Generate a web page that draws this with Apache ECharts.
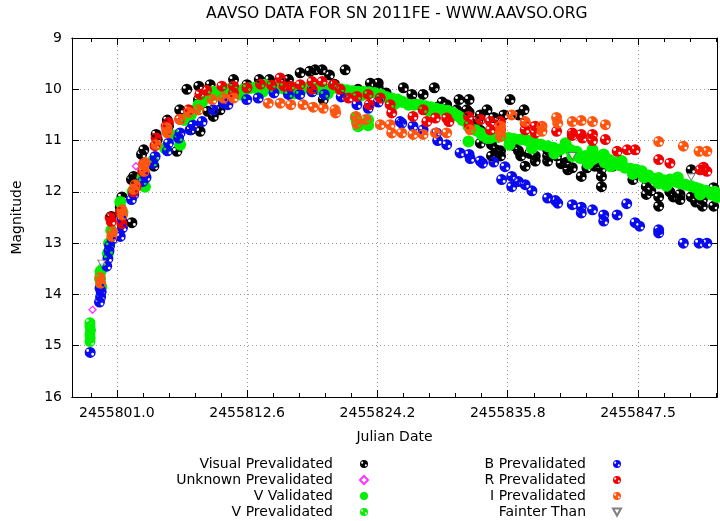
<!DOCTYPE html>
<html><head><meta charset="utf-8">
<script src="https://cdn.jsdelivr.net/npm/echarts@6/dist/echarts.min.js"></script>
<style>html,body{margin:0;padding:0;background:#fff}#c{width:720px;height:521px}</style>
</head><body><div id="c"></div>
<script>
// x values are Julian Date - 2455800
const xTickValues = [1.0, 12.615, 24.23, 35.845, 47.46];
const xTickLabels = ['2455801.0', '2455812.6', '2455824.2', '2455835.8', '2455847.5'];
const yTickLabels = ['9', '10', '11', '12', '13', '14', '15', '16'];

const visualPre = [[0.5,12.48],[1.3,12.3],[1.45,12.1],[2.34,12.6],[2.3,11.76],[2.5,11.7],[3.2,11.27],[3.4,11.18],[4.3,11.5],[4.6,10.98],[4.5,10.88],[5.5,10.6],[5.6,10.72],[6.35,11.21],[6.6,10.4],[7.24,10.0],[7.6,10.79],[8.27,10.2],[8.3,9.94],[8.42,10.82],[9.1,10.43],[9.32,9.91],[9.6,10.53],[10.2,10.4],[10.5,10.24],[11.4,9.81],[12.6,9.91],[13.7,9.81],[14.6,9.81],[15.9,9.88],[16.3,9.81],[17.34,9.68],[18.2,9.65],[18.68,9.62],[19.3,9.62],[19.95,9.72],[19.4,10.2],[20.4,9.9],[21.35,9.62],[22.5,10.0],[23.6,9.88],[24.3,9.88],[24.3,9.97],[25.0,10.07],[26.54,9.97],[27.3,10.1],[27.3,10.24],[28.3,10.1],[29.3,9.97],[29.6,10.35],[30.0,10.25],[30.4,10.3],[30.5,10.4],[31.5,10.2],[32.4,10.2],[31.3,10.4],[32.2,10.4],[32.4,10.45],[33.4,10.5],[33.2,10.6],[33.4,10.8],[34.0,10.4],[34.6,10.55],[34.4,11.0],[35.2,10.9],[35.5,10.5],[36.05,10.2],[36.8,10.5],[37.3,10.4],[33.4,11.05],[34.4,11.08],[34.4,11.3],[34.8,11.18],[35.2,11.3],[35.2,11.2],[36.4,11.1],[36.8,11.2],[37.4,11.5],[37.0,11.3],[37.8,11.25],[38.3,11.3],[38.3,11.4],[39.4,11.18],[39.4,11.3],[39.4,11.4],[40.2,11.3],[40.6,11.45],[41.0,11.43],[41.2,11.57],[41.6,11.53],[42.4,11.7],[42.9,11.53],[43.6,11.5],[44.2,11.55],[44.2,11.7],[44.2,11.9],[45.2,11.5],[47.0,11.76],[48.0,11.7],[48.2,11.9],[48.2,12.05],[48.6,11.98],[49.3,12.1],[49.3,12.28],[50.3,12.0],[50.6,12.1],[51.2,12.15],[51.2,12.05],[52.2,12.1],[52.2,11.57],[52.6,12.2],[53.2,12.15],[53.2,12.28],[54.2,12.28],[54.2,11.92]];
const unknownPre = [[-1.17,14.3],[2.7,11.5]];
const vValidated = [[-0.45,13.55],[-0.5,13.7],[-0.4,13.85],[0.2,13.2],[0.3,13.0],[0.5,12.75],[1.5,12.4],[1.3,12.2],[2.4,12.0],[3.5,11.9],[3.3,11.7],[4.2,11.4],[5.3,11.15],[6.64,11.08],[6.2,10.9],[7.0,10.6],[7.6,10.5],[8.0,10.4],[8.3,10.3],[8.6,10.25],[9.3,10.14],[9.6,10.05],[10.0,10.12],[10.3,10.05],[10.7,10.02],[11.0,10.0],[11.8,10.04],[12.0,10.1],[12.3,10.0],[12.8,9.98],[13.3,9.97],[14.0,10.05],[14.2,9.91],[14.6,9.95],[15.0,9.97],[15.5,9.97],[16.0,10.0],[16.5,10.0],[16.8,10.08],[17.0,10.0],[17.5,10.0],[18.0,9.97],[18.5,9.98],[19.0,10.0],[19.5,10.0],[19.8,10.08],[20.0,10.0],[20.5,9.97],[21.0,10.0],[21.5,10.02],[22.0,10.04],[22.5,10.05],[22.8,10.12],[23.0,10.05],[23.5,10.06],[24.0,10.07],[24.5,10.1],[25.0,10.15],[25.5,10.18],[25.8,10.28],[26.0,10.2],[26.5,10.25],[27.0,10.3],[27.5,10.3],[28.0,10.3],[28.5,10.33],[28.8,10.42],[29.0,10.35],[29.5,10.38],[30.0,10.4],[30.5,10.42],[31.0,10.46],[31.2,10.5],[31.5,10.53],[31.8,10.6],[32.35,10.72],[32.35,11.02],[33.0,10.8],[33.4,10.85],[33.6,10.9],[34.0,10.95],[34.3,10.95],[35.0,10.93],[35.9,10.95],[36.0,11.08],[36.4,10.97],[37.0,10.98],[37.6,11.0],[38.0,11.15],[38.3,11.05],[38.8,11.08],[39.4,11.11],[39.9,11.14],[40.0,11.25],[40.5,11.18],[41.0,11.05],[41.4,11.18],[41.6,11.3],[42.0,11.22],[42.3,11.34],[42.8,11.3],[43.0,11.45],[43.4,11.37],[43.4,11.18],[43.9,11.32],[44.4,11.27],[44.5,11.43],[44.9,11.38],[45.0,11.5],[45.4,11.43],[45.8,11.48],[46.0,11.4],[46.3,11.53],[46.8,11.55],[47.0,11.65],[47.3,11.57],[47.8,11.6],[48.0,11.72],[48.4,11.68],[48.9,11.75],[49.3,11.73],[49.3,11.83],[49.8,11.78],[50.0,11.88],[50.3,11.76],[50.8,11.8],[51.0,11.72],[51.2,11.83],[51.7,11.86],[52.2,11.89],[52.6,11.92],[53.0,11.95],[53.0,12.05],[53.5,11.98],[54.0,12.05],[54.3,12.0],[54.5,12.1],[22.3,10.55],[22.4,10.63],[22.5,10.72],[23.4,10.6],[23.4,10.7]];
const vPre = [[-1.4,14.55],[-1.4,14.62],[-1.35,14.7],[-1.4,14.78],[-1.38,14.85],[-1.4,14.92],[-0.3,13.5],[-0.5,13.6]];
const bPre = [[-1.38,15.13],[-0.55,14.15],[-0.45,14.05],[-0.4,13.95],[-0.5,13.88],[0.1,13.45],[0.2,13.3],[0.3,13.15],[0.35,13.05],[0.6,12.92],[1.3,12.87],[1.45,12.55],[1.5,12.7],[2.3,12.15],[2.5,12.05],[3.3,11.8],[3.5,11.65],[3.6,11.72],[4.41,11.31],[4.2,11.45],[5.6,11.05],[5.5,11.2],[6.64,10.85],[6.5,10.95],[7.53,10.79],[7.8,10.7],[8.6,10.63],[9.6,10.4],[10.5,10.27],[10.9,10.3],[12.58,10.2],[13.6,10.17],[15.0,10.07],[16.3,10.1],[17.3,10.1],[18.4,10.05],[19.5,10.1],[21.0,10.15],[22.4,10.3],[23.4,10.37],[24.3,10.25],[26.25,10.63],[26.4,10.66],[27.4,10.72],[28.3,10.79],[29.5,10.85],[29.6,11.0],[30.4,11.08],[31.6,11.24],[32.4,11.27],[32.5,11.35],[33.4,11.4],[33.6,11.44],[34.6,11.42],[35.6,11.51],[35.3,11.76],[36.2,11.7],[36.2,11.9],[36.8,11.8],[37.4,11.86],[38.0,11.98],[39.4,12.12],[40.1,12.17],[40.3,12.22],[41.6,12.25],[42.4,12.3],[42.4,12.41],[43.4,12.35],[44.4,12.45],[44.4,12.57],[45.6,12.45],[46.45,12.23],[47.2,12.6],[47.6,12.67],[49.3,12.74],[49.3,12.8],[51.5,13.0],[52.9,13.0],[53.6,13.0]];
const rPre = [[0.5,12.58],[0.4,12.5],[1.45,12.62],[1.3,12.4],[2.5,12.0],[2.7,11.9],[3.3,11.6],[3.4,11.45],[4.5,10.95],[4.4,11.1],[5.46,10.8],[5.4,10.72],[5.6,10.65],[6.6,10.58],[7.39,10.4],[8.4,10.1],[9.0,10.02],[10.36,9.94],[11.4,9.94],[11.4,10.07],[12.6,9.97],[13.8,9.9],[14.8,9.92],[15.56,9.78],[15.9,9.94],[16.5,9.94],[17.34,9.91],[18.4,9.85],[18.4,10.0],[19.3,9.85],[20.3,9.91],[20.9,10.0],[21.65,10.17],[22.4,10.14],[23.4,10.1],[23.5,10.3],[24.48,10.17],[25.36,10.3],[25.5,10.46],[27.4,10.53],[28.3,10.4],[28.63,10.63],[29.4,10.56],[30.4,10.56],[30.6,10.63],[32.35,10.53],[32.4,10.69],[33.4,10.59],[34.3,10.63],[34.3,10.79],[35.2,10.63],[35.2,10.79],[37.4,10.66],[37.4,10.79],[38.3,10.72],[38.3,10.85],[40.2,10.82],[41.6,10.85],[41.6,10.9],[42.4,10.88],[42.5,10.95],[43.4,10.88],[43.4,11.0],[44.55,10.98],[45.6,11.21],[46.5,11.18],[47.2,11.18],[49.3,11.37],[50.3,11.44],[53.0,11.57],[53.3,11.52],[53.6,11.6]];
const iPre = [[-0.5,13.67],[-0.45,13.78],[0.55,12.87],[0.6,12.78],[1.45,12.35],[1.5,12.45],[2.63,11.86],[2.5,11.95],[3.37,11.47],[3.52,11.43],[3.45,11.6],[4.5,11.08],[5.46,10.75],[5.5,10.85],[6.64,10.59],[7.4,10.45],[8.27,10.4],[9.5,10.2],[10.5,10.17],[11.4,10.17],[14.5,10.27],[15.56,10.27],[16.5,10.3],[17.6,10.3],[18.5,10.35],[19.4,10.37],[20.45,10.4],[20.5,10.46],[22.3,10.53],[22.4,10.67],[23.2,10.59],[24.48,10.69],[25.36,10.69],[25.5,10.85],[26.4,10.85],[27.4,10.88],[28.3,10.88],[29.4,10.85],[30.4,10.85],[32.5,10.79],[35.2,10.72],[35.2,10.92],[35.2,10.82],[36.2,10.5],[37.4,10.63],[38.9,10.82],[38.9,10.72],[40.2,10.55],[40.3,10.66],[41.6,10.63],[42.4,10.61],[43.4,10.63],[44.55,10.69],[49.3,11.02],[51.5,11.11],[52.9,11.21],[53.6,11.21]];
const fainterThan = [[-0.34,13.4],[41.6,11.3],[52.2,11.71]];

const FONT = 'DejaVu Sans';
const PAT = 'path://M10,0A10,10,0,1,1,10,20A10,10,0,1,1,10,0ZM5.5,4A2.6,2.6,0,1,0,5.5,9.2A2.6,2.6,0,1,0,5.5,4ZM14.5,10.8A2.6,2.6,0,1,0,14.5,16A2.6,2.6,0,1,0,14.5,10.8Z';
const TRI_DOWN = 'path://M0,0L10,0L5,9Z';

// minor tick positions (axis decoration): 5 subdivisions of the major step
const step = xTickValues[1] - xTickValues[0];
const xMinorValues = [];
for (let v = xTickValues[0] - step; v < 55; v += step / 5) { if (v > -3) xMinorValues.push(+v.toFixed(3)); }

const XMIN = -3.0, XMAX = 54.5;
const chart = echarts.init(document.getElementById('c'), null, {renderer: 'canvas'});

function pat(name, data, color, size) {
  return {name, type: 'scatter', data, symbol: PAT, symbolSize: size || 11,
    itemStyle: {color, opacity: 1}, emphasis: {disabled: true}, xAxisIndex: 0, yAxisIndex: 0};
}

const axisLine = {show: true, onZero: false, lineStyle: {color: '#000', width: 1}};
const hiddenX = (pos, vals, len) => ({
  type: 'value', min: XMIN, max: XMAX, position: pos, axisLine,
  axisTick: {show: true, inside: true, length: len, customValues: vals, lineStyle: {color: '#000'}},
  axisLabel: {show: false}, splitLine: {show: false}
});
const legendText = {fontFamily: FONT, fontSize: 14, color: '#000', lineHeight: 14, padding: [0, 22, 0, 0]};

chart.setOption({
  animation: false,
  backgroundColor: '#fff',
  title: {text: 'AAVSO DATA FOR SN 2011FE - WWW.AAVSO.ORG', left: 206, top: 6, padding: 0,
    textStyle: {fontFamily: FONT, fontSize: 15.5, fontWeight: 'normal', color: '#000'}},
  grid: {left: 72, right: 3, top: 38, bottom: 124, containLabel: false},
  xAxis: [
    {type: 'value', min: XMIN, max: XMAX, position: 'bottom', name: 'Julian Date', nameLocation: 'middle', nameGap: 33,
     nameTextStyle: {fontFamily: FONT, fontSize: 14, color: '#000'},
     axisLine,
     axisTick: {show: true, inside: true, length: 7, customValues: xTickValues, lineStyle: {color: '#000'}},
     axisLabel: {show: true, customValues: xTickValues, margin: 9, fontFamily: FONT, fontSize: 14, color: '#000',
       formatter: v => { const i = xTickValues.findIndex(t => Math.abs(t - v) < 1e-6); return i >= 0 ? xTickLabels[i] : ''; }},
     splitLine: {show: true, lineStyle: {color: '#9a9a9a', type: [1, 3], width: 1}}},
    hiddenX('top', xTickValues, 7),
    hiddenX('top', xMinorValues, 4),
    hiddenX('bottom', xMinorValues, 4)
  ],
  yAxis: [
    {type: 'value', inverse: true, min: 9, max: 16, interval: 1, position: 'left', name: 'Magnitude', nameLocation: 'middle', nameGap: 48,
     nameRotate: 90, nameTextStyle: {fontFamily: FONT, fontSize: 14, color: '#000'},
     axisLine, axisTick: {show: true, inside: true, length: 7, lineStyle: {color: '#000'}},
     axisLabel: {margin: 10, fontFamily: FONT, fontSize: 14, color: '#000', formatter: v => yTickLabels[Math.round(v - 9)]},
     splitLine: {show: true, lineStyle: {color: '#9a9a9a', type: [1, 3], width: 1}}},
    {type: 'value', inverse: true, min: 9, max: 16, interval: 1, position: 'right', axisLine,
     axisTick: {show: true, inside: true, length: 7, lineStyle: {color: '#000'}},
     axisLabel: {show: false}, splitLine: {show: false}}
  ],
  legend: [
    {data: ['Visual Prevalidated', 'Unknown Prevalidated', 'V Validated', 'V Prevalidated'],
     orient: 'vertical', align: 'right', right: 351, top: 457, padding: 0, itemWidth: 8, itemHeight: 8, itemGap: 2,
     selectedMode: false, textStyle: legendText},
    {data: ['B Prevalidated', 'R Prevalidated', 'I Prevalidated', 'Fainter Than'],
     orient: 'vertical', align: 'right', right: 98, top: 457, padding: 0, itemWidth: 8, itemHeight: 8, itemGap: 2,
     selectedMode: false, textStyle: legendText}
  ],
  series: [
    pat('Visual Prevalidated', visualPre, '#000000'),
    {name: 'Unknown Prevalidated', type: 'scatter', data: unknownPre, symbol: 'diamond', symbolSize: 7,
     itemStyle: {color: '#ffffff', borderColor: '#ff00ff', borderWidth: 1.3}, emphasis: {disabled: true}},
    {name: 'V Validated', type: 'scatter', data: vValidated, symbol: 'circle', symbolSize: 12,
     itemStyle: {color: '#00f000', opacity: 1}, emphasis: {disabled: true}},
    pat('V Prevalidated', vPre, '#00f000'),
    pat('B Prevalidated', bPre, '#0a0af0'),
    pat('R Prevalidated', rPre, '#f00000'),
    pat('I Prevalidated', iPre, '#ff5511'),
    {name: 'Fainter Than', type: 'scatter', data: fainterThan, symbol: TRI_DOWN, symbolSize: [8, 7],
     itemStyle: {color: '#ffffff', borderColor: '#606060', borderWidth: 1}, emphasis: {disabled: true}}
  ]
});
</script></body></html>
